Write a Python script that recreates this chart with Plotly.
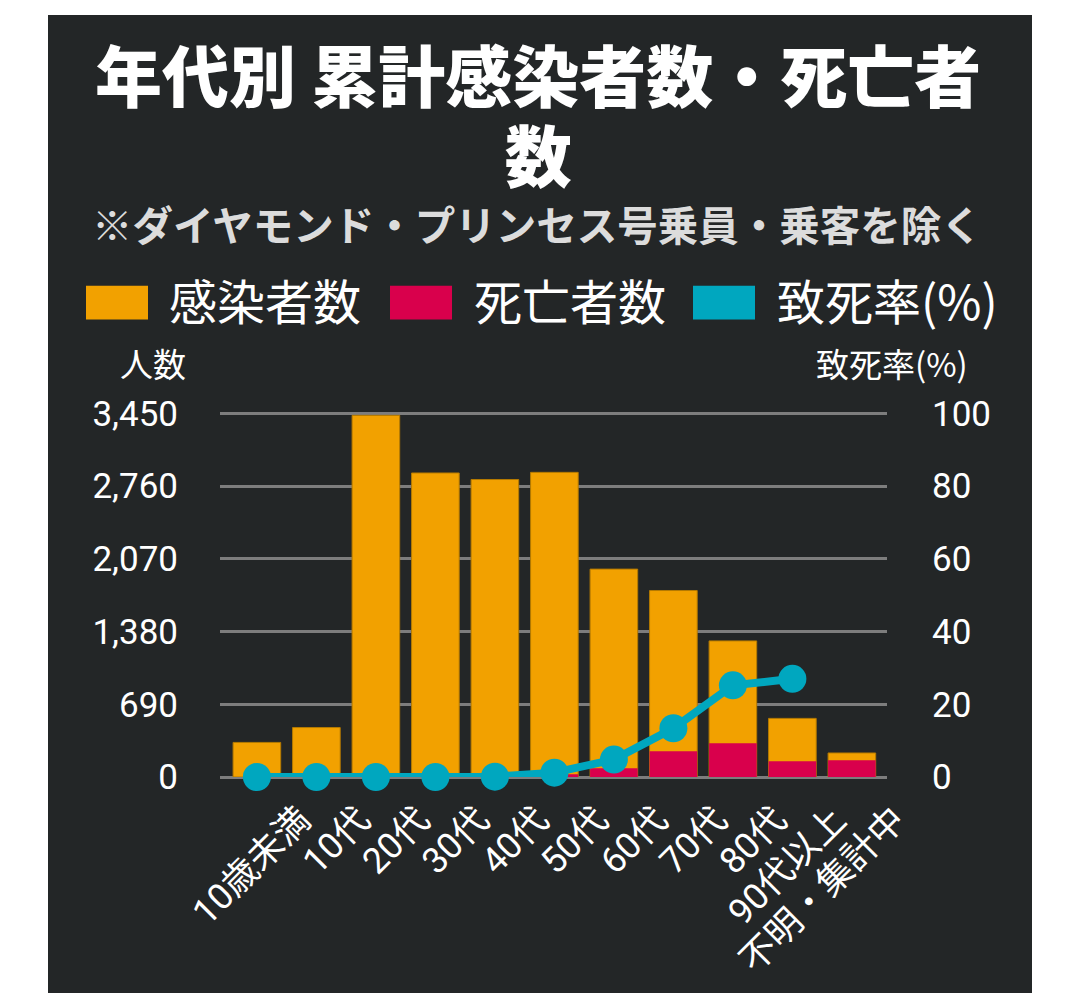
import plotly.graph_objects as go

categories = ["10歳未満", "10代", "20代", "30代", "40代", "50代", "60代",
              "70代", "80代", "90代以上", "不明・集計中"]
infected = [328, 469, 3431, 2884, 2822, 2890, 1972, 1769, 1291, 556, 228]
deaths = [0, 0, 0, 1, 3, 25, 82, 244, 320, 150, 160]
rate = [0, 0, 0, 0, 0.1, 1.2, 4.8, 13.4, 25.2, 27.0]

left_ticks = [0, 690, 1380, 2070, 2760, 3450]
right_ticks = [0, 20, 40, 60, 80, 100]

ORANGE = '#f2a100'
RED = '#d9004c'
TEAL = '#00a7bf'
BG = '#232627'
GRID = '#7d7d7d'
FONT = 'Roboto, Noto Sans CJK JP, sans-serif'
CJK = 'Noto Sans CJK JP, sans-serif'

# page has an 8px body margin, so the figure is a bit smaller than the window
OFF = 8
W, H = 1080 - OFF, 993 - OFF
# where 0 and 3450 should sit on the page
P_LEFT, P_RIGHT, P_TOP, P_BOTTOM = 220, 887, 413, 781
Y_MAX = 3450
Y_TOP = 3472  # a little headroom so the 3,450 grid line is drawn
ph = (P_BOTTOM - P_TOP) * Y_TOP / Y_MAX
pw = P_RIGHT - P_LEFT
L, R = P_LEFT - OFF, W - (P_RIGHT - OFF)
B = H - (P_BOTTOM - OFF)
T = H - B - ph


def px(x):
    return (x - P_LEFT) / pw


def py(y):
    return (P_BOTTOM - y) / ph


x_idx = list(range(len(categories)))

fig = go.Figure()
fig.add_trace(go.Bar(x=x_idx, y=infected, name='感染者数', width=0.8,
                     marker=dict(color=ORANGE,
                                 line=dict(color='#b57a00', width=1))))
fig.add_trace(go.Bar(x=x_idx, y=deaths, name='死亡者数', width=0.8,
                     marker=dict(color=RED, line=dict(width=0))))
fig.add_trace(go.Scatter(x=x_idx[:len(rate)], y=rate, name='致死率(%)',
                         yaxis='y2', mode='lines+markers', cliponaxis=False,
                         line=dict(color=TEAL, width=8),
                         marker=dict(color=TEAL, size=28)))

shapes = [
    dict(type='rect', xref='paper', yref='paper', x0=px(48), x1=px(1032),
         y0=py(1010), y1=py(10), fillcolor=BG, line=dict(width=0),
         layer='below'),
]
# title wraps onto a second line; line spacing comes from the base size
big = '<span style="font-size:67px">{}</span>'
title = big.format('年代別 累計感染者数・死亡者') + '<br>' + big.format('数')
annotations = [
    dict(text=title, x=px(538), y=py(109),
         font=dict(family=CJK, size=61.5, color='white', weight=900)),
    dict(text='※ダイヤモンド・プリンセス号乗員・乗客を除く', x=px(537), y=py(221),
         font=dict(family=CJK, size=40.5, color='#dcdcdc', weight='bold')),
    dict(text='人数', x=px(153), y=py(362),
         font=dict(family=CJK, size=33, color='white')),
    dict(text='致死率(%)', x=px(892), y=py(362),
         font=dict(family=CJK, size=33, color='white')),
]
legend_items = [('感染者数', ORANGE, 86, 170), ('死亡者数', RED, 390, 475),
                ('致死率(%)', TEAL, 693, 778)]
for label, color, sx, tx in legend_items:
    shapes.append(dict(type='rect', xref='paper', yref='paper',
                       x0=px(sx), x1=px(sx + 62), y0=py(318), y1=py(284),
                       fillcolor=color, line=dict(width=0)))
    annotations.append(dict(text=label, x=px(tx - 3), y=py(297),
                            xanchor='left',
                            font=dict(family=CJK, size=48, color='white')))
for a in annotations:
    a.update(xref='paper', yref='paper', showarrow=False)
    a.setdefault('xanchor', 'center')
    a.setdefault('yanchor', 'middle')

fig.update_layout(
    width=W, height=H,
    margin=dict(l=L, r=R, t=T, b=B, pad=0),
    paper_bgcolor='white',
    plot_bgcolor='rgba(0,0,0,0)',
    barmode='overlay',
    showlegend=False,
    shapes=shapes,
    annotations=annotations,
    xaxis=dict(range=[-0.62, 10.59], tickvals=x_idx, ticktext=categories,
               tickangle=-45, ticklabelshift=43, showgrid=False,
               zeroline=False, ticks='outside', ticklen=6,
               tickcolor='rgba(0,0,0,0)',
               tickfont=dict(family=FONT, size=36, color='white')),
    yaxis=dict(range=[0, Y_TOP], tickvals=left_ticks, tickformat=',d',
               showgrid=True, gridcolor=GRID, gridwidth=3, zeroline=True,
               zerolinecolor=GRID, zerolinewidth=3, ticks='outside',
               ticklen=34, tickcolor='rgba(0,0,0,0)',
               tickfont=dict(family=FONT, size=35, color='white')),
    yaxis2=dict(range=[0, 100 * Y_TOP / Y_MAX], tickvals=right_ticks,
                overlaying='y', side='right', showgrid=False, zeroline=False,
                ticks='outside', ticklen=37, tickcolor='rgba(0,0,0,0)',
                tickfont=dict(family=FONT, size=35, color='white')),
)

fig.write_html("out.html")
